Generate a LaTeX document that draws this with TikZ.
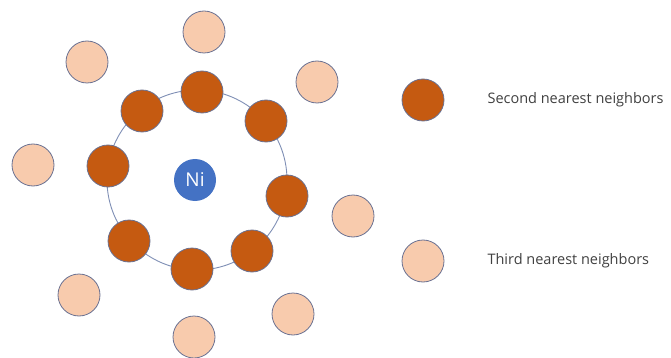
\documentclass[tikz,border=0pt]{standalone}
\usepackage{fontspec}
\setmainfont{Open Sans}
\definecolor{darkorg}{HTML}{C55A11}
\definecolor{lightorg}{HTML}{F8CBAD}
\definecolor{niblue}{HTML}{4472C4}
\definecolor{outl}{HTML}{6A7192}
\definecolor{ringc}{HTML}{7F8FB5}
\definecolor{txt}{HTML}{404040}
\begin{document}
\begin{tikzpicture}[x=1pt,y=-1pt,
  second/.style={circle,draw=outl,line width=0.8pt,fill=darkorg,minimum size=42pt,inner sep=0pt},
  third/.style={circle,draw=outl,line width=0.8pt,fill=lightorg,minimum size=42pt,inner sep=0pt},
  center/.style={circle,fill=niblue,minimum size=42pt,inner sep=0pt,text=white,font=\fontsize{19}{22}\selectfont},
  legend/.style={anchor=west,text=txt,font=\fontsize{14.5}{17}\selectfont}]
\useasboundingbox (0,0) rectangle (671,358);
\draw[ringc,line width=0.9pt] (197,180) circle (90);
\node[center] (ni) at (195,180) {Ni};
\node[second] (s1) at (202,92) {};
\node[second] (s2) at (142,111) {};
\node[second] (s3) at (266,121) {};
\node[second] (s4) at (108,166) {};
\node[second] (s5) at (287,196) {};
\node[second] (s6) at (129,241) {};
\node[second] (s7) at (252,251) {};
\node[second] (s8) at (192,269) {};
\node[third] (t1) at (204,32) {};
\node[third] (t2) at (87,62) {};
\node[third] (t3) at (317,82) {};
\node[third] (t4) at (33,165) {};
\node[third] (t5) at (353,216) {};
\node[third] (t6) at (79,295) {};
\node[third] (t7) at (293,314) {};
\node[third] (t8) at (194,337) {};
\node[second] (ls) at (423,100) {};
\node[third] (lt) at (423,261) {};
\node[legend] (lst) at (484,100) {Second nearest neighbors};
\node[legend] (ltt) at (484,261) {Third nearest neighbors};
\end{tikzpicture}
\end{document}
